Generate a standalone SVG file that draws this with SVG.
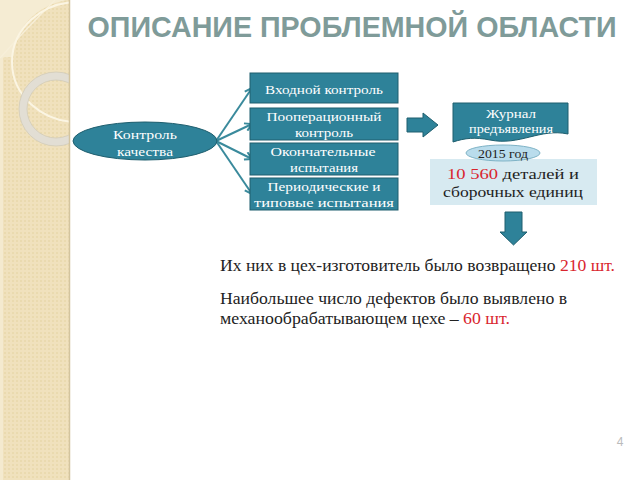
<svg xmlns="http://www.w3.org/2000/svg" width="640" height="480" viewBox="0 0 640 480">
<defs>
<marker id="ah" markerWidth="10" markerHeight="10" refX="8" refY="5" orient="auto" markerUnits="userSpaceOnUse">
<path d="M1,1 L8,5 L1,9" fill="none" stroke="#3a8a9c" stroke-width="2"/>
</marker>
<pattern id="pt" width="4" height="4" patternUnits="userSpaceOnUse">
<rect width="4" height="4" fill="#f0e1bd"/>
<rect width="2" height="2" fill="#eadaaf"/>
</pattern>
<clipPath id="sb"><rect x="0" y="0" width="69" height="480"/></clipPath>
</defs>
<style>
.box{fill:#2e8299;stroke:#1e5e6e;stroke-width:1}
.wt{font-family:"Liberation Serif","DejaVu Serif",serif;font-size:13px;fill:#ffffff;text-anchor:middle}
.bt{font-family:"Liberation Serif","DejaVu Serif",serif;font-size:16px;fill:#222222}
.dt{font-family:"Liberation Serif","DejaVu Serif",serif;fill:#222222;text-anchor:middle}
.red{fill:#d9252e}
.conn{stroke:#3a8a9c;stroke-width:2;fill:none}
.big{fill:#2e8299;stroke:#1e5e6e;stroke-width:1}
</style>
<rect width="640" height="480" fill="#ffffff"/>
<g id="sidebar" clip-path="url(#sb)">
<rect x="0" y="0" width="69" height="480" fill="url(#pt)"/>
<rect x="0" y="0" width="3" height="480" fill="#f4eacf"/>
<path d="M0,0 H67 A66,60 0 0 0 13,57 Q6,57 0,58 Z" fill="#f5ecd3"/>
<path d="M0,58 Q25,30 55,0" fill="none" stroke="#f7efd9" stroke-width="1.2"/>
<ellipse cx="78" cy="62" rx="66" ry="60" fill="none" stroke="#fbf5e3" stroke-width="2"/>
<circle cx="56" cy="109" r="33" fill="none" stroke="#e2ded4" stroke-width="8"/>
<circle cx="56" cy="109" r="37" fill="none" stroke="#d2cbb9" stroke-width="0.8"/>
<circle cx="56" cy="109" r="29" fill="none" stroke="#d2cbb9" stroke-width="0.8"/>
</g>
<line x1="69.5" y1="0" x2="69.5" y2="480" stroke="#d3c49e" stroke-width="1.5"/>
<text x="352" y="37" font-family="Liberation Sans,Arial,sans-serif" font-weight="bold" font-size="30" fill="#7f9b99" text-anchor="middle" textLength="529" lengthAdjust="spacingAndGlyphs">ОПИСАНИЕ ПРОБЛЕМНОЙ ОБЛАСТИ</text>
<g id="connectors">
<line class="conn" x1="216" y1="141" x2="252" y2="88" marker-end="url(#ah)"/>
<line class="conn" x1="216" y1="141" x2="252" y2="124" marker-end="url(#ah)"/>
<line class="conn" x1="216" y1="141" x2="252" y2="159" marker-end="url(#ah)"/>
<line class="conn" x1="216" y1="141" x2="252" y2="194" marker-end="url(#ah)"/>
<path class="big" d="M407,118 H423 V113 L438,125 L423,137 V132 H407 Z"/>
<path class="big" d="M505,212 H522 V232 H527 L513.5,245 L500,232 H505 Z"/>
</g>
<g id="n-kk">
<ellipse class="box" cx="145" cy="141" rx="72" ry="19"/>
<text class="wt" x="145" y="139" textLength="64" lengthAdjust="spacingAndGlyphs">Контроль</text>
<text class="wt" x="145" y="156" textLength="56" lengthAdjust="spacingAndGlyphs">качества</text>
</g>
<g id="n-b1">
<rect class="box" x="250" y="73" width="148" height="30"/>
<text class="wt" x="324" y="94" textLength="118" lengthAdjust="spacingAndGlyphs">Входной контроль</text>
</g>
<g id="n-b2">
<rect class="box" x="250" y="108" width="148" height="32"/>
<text class="wt" x="324" y="121" textLength="115" lengthAdjust="spacingAndGlyphs">Пооперационный</text>
<text class="wt" x="324" y="137" textLength="58" lengthAdjust="spacingAndGlyphs">контроль</text>
</g>
<g id="n-b3">
<rect class="box" x="250" y="143" width="148" height="32"/>
<text class="wt" x="323" y="156" textLength="105" lengthAdjust="spacingAndGlyphs">Окончательные</text>
<text class="wt" x="324" y="172" textLength="68" lengthAdjust="spacingAndGlyphs">испытания</text>
</g>
<g id="n-b4">
<rect class="box" x="250" y="178" width="148" height="32"/>
<text class="wt" x="324" y="191" textLength="113" lengthAdjust="spacingAndGlyphs">Периодические и</text>
<text class="wt" x="324" y="207" textLength="140" lengthAdjust="spacingAndGlyphs">типовые испытания</text>
</g>
<g id="n-journal">
<path class="box" d="M453,103 H568 V134 C540,128 520,146 490,140 C475,137 465,138 453,142 Z"/>
<text class="wt" x="511" y="118" textLength="50" lengthAdjust="spacingAndGlyphs">Журнал</text>
<text class="wt" x="511" y="133" textLength="84" lengthAdjust="spacingAndGlyphs">предъявления</text>
</g>
<g id="n-det">
<rect x="430" y="159" width="167" height="46" fill="#d7eaf1"/>
<text class="dt" x="513" y="179" font-size="15.5" textLength="132" lengthAdjust="spacingAndGlyphs"><tspan class="red">10 560</tspan> деталей и</text>
<text class="dt" x="513" y="197" font-size="15.5" textLength="140" lengthAdjust="spacingAndGlyphs">сборочных единиц</text>
</g>
<g id="n-year">
<ellipse cx="503" cy="153" rx="37" ry="8" fill="#b9dcec" stroke="#7fb3c6" stroke-width="1"/>
<text class="dt" x="503" y="158" font-size="13" textLength="50" lengthAdjust="spacingAndGlyphs">2015 год</text>
</g>
<text class="bt" x="220" y="271" textLength="395" lengthAdjust="spacingAndGlyphs">Их них в цех-изготовитель было возвращено <tspan class="red">210 шт.</tspan></text>
<text class="bt" x="220" y="304" textLength="347" lengthAdjust="spacingAndGlyphs">Наибольшее число дефектов было выявлено в</text>
<text class="bt" x="220" y="324" textLength="290" lengthAdjust="spacingAndGlyphs">механообрабатывающем цехе – <tspan class="red">60 шт.</tspan></text>
<text x="620" y="446" font-family="Liberation Sans,sans-serif" font-size="12" fill="#bbbbbb" text-anchor="middle">4</text>
</svg>
